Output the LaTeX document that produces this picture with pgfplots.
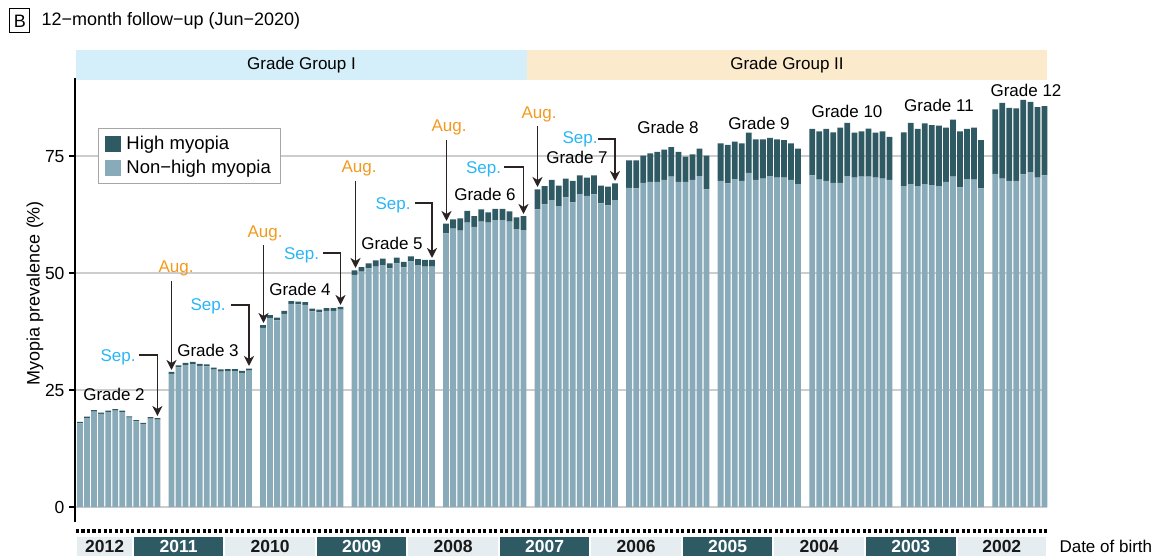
\documentclass[border=0pt]{standalone}
\usepackage{pgfplots}
\pgfplotsset{compat=1.18}
\usepackage{pgfplotstable}
\usepackage{fontspec}
\setmainfont{Liberation Sans}
\usetikzlibrary{arrows.meta}
\definecolor{lightbar}{HTML}{89AAB8}
\definecolor{darkbar}{HTML}{2F5963}
\definecolor{gridgray}{HTML}{CDCDCD}
\definecolor{bandI}{HTML}{D4EEFA}
\definecolor{bandII}{HTML}{FCEACD}
\definecolor{augc}{HTML}{F29A1E}
\definecolor{sepc}{HTML}{29B6F6}
\definecolor{arrowc}{HTML}{2B2222}
\definecolor{striplight}{HTML}{E6EDF0}
\definecolor{stripdark}{HTML}{2E5A64}

\pgfplotstableread{
x nh hi
0 17.9 0.3
1 19.0 0.3
2 20.4 0.3
3 19.9 0.3
4 20.3 0.3
5 20.6 0.3
6 20.3 0.3
7 19.1 0.3
8 18.3 0.3
9 17.7 0.3
10 18.9 0.3
11 18.7 0.3
13 28.45 0.45
14 29.85 0.45
15 30.35 0.45
16 30.55 0.45
17 30.15 0.45
18 30.05 0.45
19 29.35 0.45
20 28.95 0.45
21 29.05 0.45
22 29.05 0.45
23 28.65 0.45
24 29.15 0.45
26 38.3 0.6
27 40.4 0.6
28 39.9 0.6
29 41.3 0.6
30 43.4 0.6
31 43.3 0.6
32 43.2 0.6
33 41.8 0.6
34 41.6 0.6
35 41.9 0.6
36 41.9 0.6
37 42.2 0.6
39 49.6 1.0
40 50.3 1.0
41 51.0 1.1
42 51.4 1.3
43 51.7 1.4
44 51.0 1.1
45 52.1 1.2
46 51.2 1.2
47 52.5 1.1
48 51.7 1.3
49 51.4 1.4
50 51.4 1.4
52 58.5 2.1
53 59.5 2.0
54 59.1 2.6
55 60.8 2.5
56 59.9 2.3
57 61.0 2.6
58 60.8 2.2
59 61.3 2.4
60 61.3 2.4
61 61.0 2.2
62 59.4 2.5
63 59.2 3.0
65 63.6 4.3
66 64.7 3.9
67 65.6 4.3
68 64.3 4.4
69 66.2 4.0
70 65.1 4.6
71 66.9 4.0
72 66.5 3.9
73 66.8 4.1
74 64.9 3.8
75 64.5 4.0
76 65.6 3.6
78 68.2 5.9
79 68.1 6.0
80 69.3 5.8
81 69.5 6.1
82 69.5 6.4
83 69.9 6.5
84 70.6 6.3
85 69.5 6.4
86 69.5 5.4
87 69.9 5.5
88 70.7 5.9
89 67.9 7.2
91 69.7 8.0
92 69.2 8.2
93 70.1 8.0
94 69.7 8.0
95 71.4 8.6
96 69.9 8.7
97 70.2 8.4
98 70.7 8.2
99 70.4 8.2
100 70.4 8.0
101 69.9 7.8
102 69.0 7.6
104 70.9 9.9
105 70.0 10.3
106 69.7 11.1
107 69.3 10.8
108 69.3 11.8
109 70.7 11.4
110 70.4 9.6
111 70.6 9.7
112 70.6 10.3
113 70.4 9.6
114 70.2 10.1
115 69.9 9.2
117 68.6 11.5
118 69.0 13.1
119 68.6 12.2
120 69.0 13.0
121 68.8 12.8
122 68.6 12.9
123 69.5 11.6
124 70.6 12.2
125 68.3 12.0
126 70.1 10.7
127 70.0 11.1
128 68.1 10.3
130 71.2 13.8
131 70.2 16.2
132 69.7 15.6
133 69.7 15.5
134 71.1 15.9
135 71.6 15.0
136 70.4 15.1
137 70.9 14.8
}\data

\begin{document}
\begin{tikzpicture}[font=\fontsize{17}{20}\selectfont]
\begin{axis}[
  at={(0pt,0pt)}, anchor=south west,
  scale only axis, width=972pt, height=444pt,
  xmin=-0.71, xmax=137.36, ymin=-3.2, ymax=91.7,
  axis x line=none, axis y line*=left,
  ybar stacked, bar width=0.82,
  xtick=\empty,
  ytick={0,25,50,75},
  ymajorgrids, major grid style={draw=gridgray, line width=1.3pt},
  y axis line style={line width=1.5pt, black},
  tick align=outside, major tick length=6pt,
  ytick style={line width=1.3pt, black},
  /pgf/number format/assume math mode=true,
  ticklabel style={font=\fontsize{17.5}{20}\selectfont},
  yticklabel style={xshift=-1pt},
  clip=false,
  reverse legend,
  legend style={at={(0.0237,0.887)}, anchor=north west, draw=black!35, line width=0.8pt,
    fill=white, inner xsep=7pt, inner ysep=6pt, row sep=5pt,
    font=\fontsize{18.5}{21}\selectfont, cells={anchor=west},
    /tikz/every odd column/.append style={column sep=3pt}},
  legend image code/.code={\fill[#1] (0pt,-8pt) rectangle (16pt,8pt);},
]
\addplot[fill=lightbar, draw=none] table[x=x, y=nh]{\data};
\addlegendentry{Non\char"2212 high myopia}
\addplot[fill=darkbar, draw=none] table[x=x, y=hi]{\data};
\addlegendentry{High myopia}
\end{axis}

\begin{scope}[x=1pt, y=-1pt, shift={(-75pt,522pt)}]
  % title
  \draw[line width=1pt] (10,9) rectangle (30,33);
  \node[font=\fontsize{18}{21}\selectfont] at (20,21) {B};
  \node[anchor=west, font=\fontsize{18}{21}\selectfont] at (38,21) {12\char"2212 month follow\char"2212 up (Jun\char"2212 2020)};
  % group bands
  \fill[bandI] (76,50) rectangle (527,80);
  \fill[bandII] (527,50) rectangle (1047,80);
  \node at (301.5,65.5) {Grade Group I};
  \node at (787,65.5) {Grade Group II};
  % y label
  \node[rotate=90, font=\fontsize{18}{21}\selectfont] at (35,293) {Myopia prevalence (\%)};
  % grade labels
  \node at (114,394) {Grade 2};
  \node at (208,350) {Grade 3};
  \node at (300,289) {Grade 4};
  \node at (392,243) {Grade 5};
  \node at (485,194) {Grade 6};
  \node at (577,157) {Grade 7};
  \node at (668,127) {Grade 8};
  \node at (759,123) {Grade 9};
  \node at (847,111) {Grade 10};
  \node at (939,105) {Grade 11};
  \node at (1026,90) {Grade 12};
  % Aug arrows
  \tikzset{arr/.style={draw=arrowc, line width=1.8pt, -{Stealth[length=10pt,width=10pt,inset=3pt]}}}
  \node[text=augc] at (176,268) {Aug.};
  \draw[arr] (171.5,281) -- (171.5,370);
  \node[text=augc] at (265,233) {Aug.};
  \draw[arr] (263.5,245) -- (263.5,323);
  \node[text=augc] at (359,168) {Aug.};
  \draw[arr] (355.5,181) -- (355.5,268);
  \node[text=augc] at (449,127) {Aug.};
  \draw[arr] (446.5,140) -- (446.5,221);
  \node[text=augc] at (539,114) {Aug.};
  \draw[arr] (537.5,126) -- (537.5,187);
  % Sep arrows
  \node[text=sepc] at (118,357) {Sep.};
  \draw[arr] (139,355) -- (157.4,355) -- (157.4,416);
  \node[text=sepc] at (208,306) {Sep.};
  \draw[arr] (231,305) -- (249,305) -- (249,366);
  \node[text=sepc] at (301.5,255) {Sep.};
  \draw[arr] (323,253) -- (340.5,253) -- (340.5,305);
  \node[text=sepc] at (393,205) {Sep.};
  \draw[arr] (415,203) -- (432,203) -- (432,258);
  \node[text=sepc] at (483.5,169) {Sep.};
  \draw[arr] (504,167) -- (523.5,167) -- (523.5,214);
  \node[text=sepc] at (580,139) {Sep.};
  \draw[arr] (598,139) -- (615,139) -- (615,181);
  % dotted line
  \draw[line width=3.3pt, dash pattern=on 3.3pt off 2.2pt] (76,531) -- (1047,531);
  % year strips
  \foreach \l/\r/\yr/\dk in {76.5/132.8/2012/0, 132.8/224.3/2011/1, 224.3/315.8/2010/0, 315.8/407.4/2009/1, 407.4/498.9/2008/0, 498.9/590.4/2007/1, 590.4/681.9/2006/0, 681.9/773.4/2005/1, 773.4/865.0/2004/0, 865.0/956.5/2003/1, 956.5/1047/2002/0}{
    \ifnum\dk=1
      \fill[stripdark] (\l+1,537) rectangle (\r-1,556);
      \node[text=white, font=\fontsize{17.5}{20}\selectfont\bfseries] at ({(\l+\r)/2},546.5) {\yr};
    \else
      \fill[striplight] (\l+1,537) rectangle (\r-1,556);
      \node[text=black!90, font=\fontsize{17.5}{20}\selectfont\bfseries] at ({(\l+\r)/2},546.5) {\yr};
    \fi
  }
  \node[anchor=west] at (1056,546.5) {Date of birth};
  \pgfresetboundingbox
  \path[use as bounding box] (0,0) rectangle (1163,555);
\end{scope}
\end{tikzpicture}
\end{document}
